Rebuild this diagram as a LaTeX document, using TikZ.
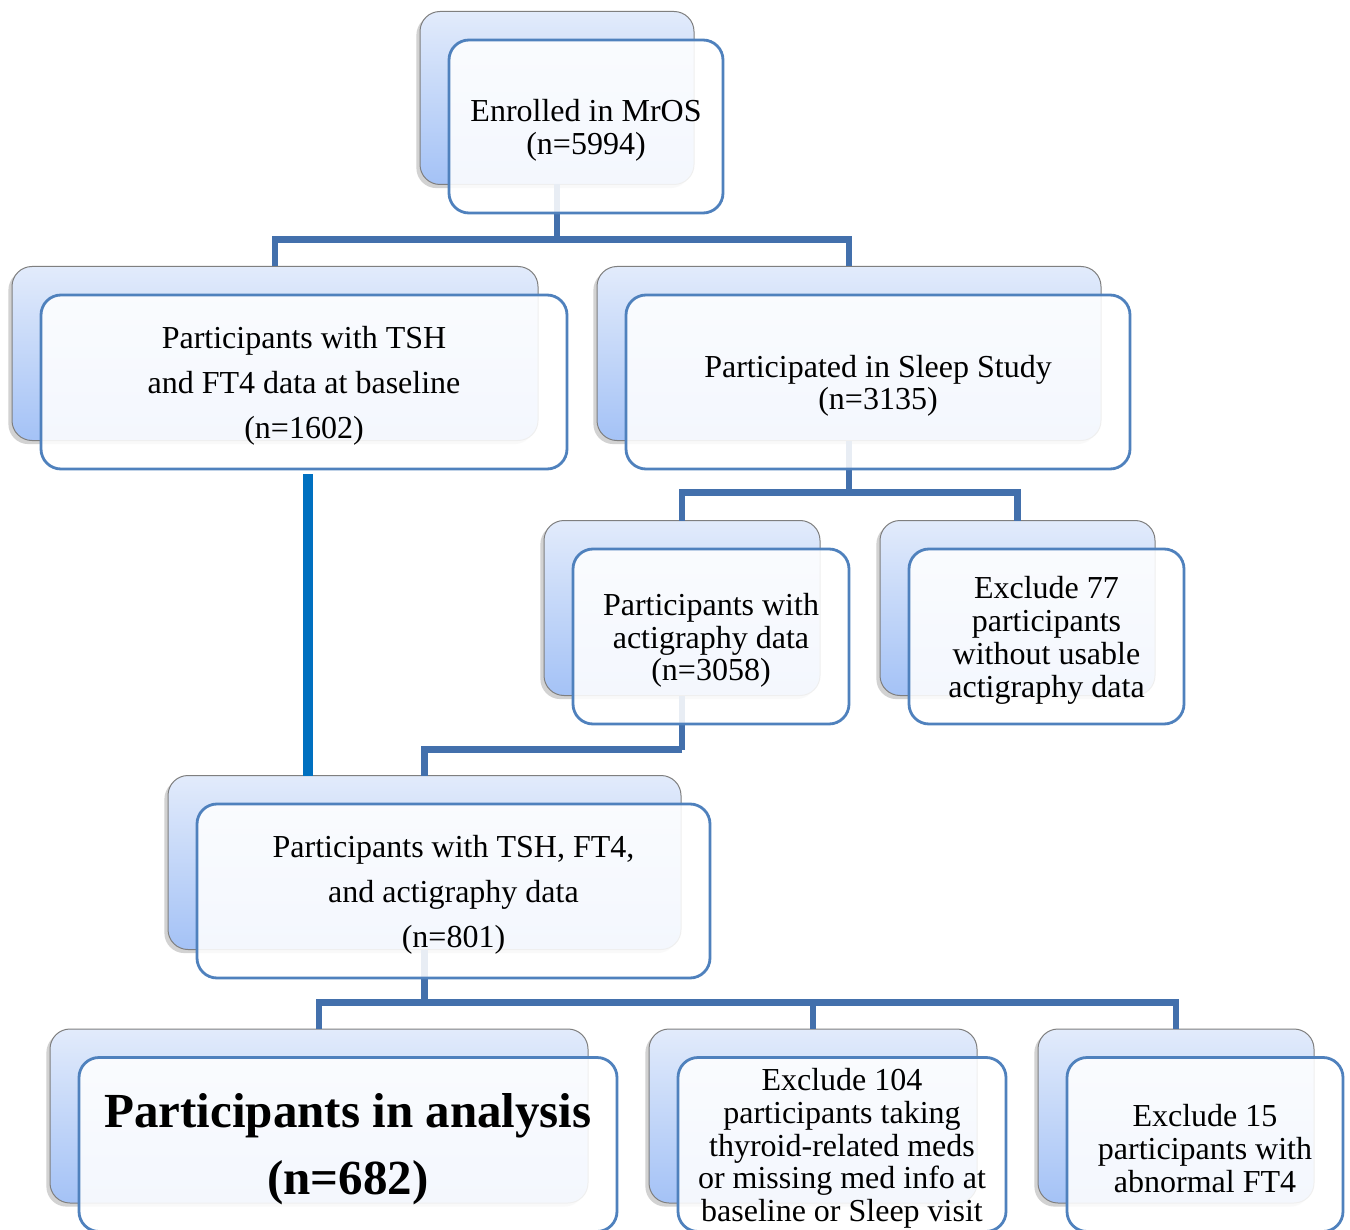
\documentclass[tikz,border=0pt]{standalone}
\usepackage{fontspec}
\setmainfont{Liberation Serif}
\usetikzlibrary{shadows}
\definecolor{conncol}{HTML}{4370AC}
\definecolor{thickcol}{HTML}{0070C0}
\definecolor{frontcol}{HTML}{4F81BD}
\definecolor{backtop}{HTML}{E2EBFB}
\definecolor{backbot}{HTML}{A4C2F6}
\definecolor{backline}{HTML}{7F7F7F}
\newcommand\tp{\rule{0pt}{15pt}}
\newcommand\tpb{\rule{0pt}{21.5pt}}
\pgfdeclarelayer{backlayer}
\pgfdeclarelayer{midlayer}
\pgfsetlayers{backlayer,midlayer,main}
\begin{document}
\begin{tikzpicture}[x=0.5pt,y=-0.5pt,
  backbox/.style={rounded corners=10pt, draw=backline, line width=0.5pt,
    top color=backtop, bottom color=backbot, inner sep=0pt, outer sep=0pt,
    drop shadow={shadow xshift=-1.8pt, shadow yshift=-1.8pt, opacity=0.25, fill=black!70}},
  frontbox/.style={rounded corners=10pt, draw=frontcol, line width=1.4pt,
    fill=white, fill opacity=0.88, text opacity=1, inner sep=0pt, outer sep=0pt,
    align=center, font=\fontsize{16}{16.4}\selectfont},
  widelines/.style={font=\fontsize{16}{22.5}\selectfont},
  bigbold/.style={font=\fontsize{24.5}{33.5}\selectfont\bfseries},
  conn/.style={draw=conncol, line width=3.2pt},
  thickconn/.style={draw=thickcol, line width=5pt},
]
\begin{pgfonlayer}{backlayer}
\fill[white] (0,0) rectangle (1350,1230);
\end{pgfonlayer}
\useasboundingbox (0,0) rectangle (1350,1230);

% back boxes
\begin{pgfonlayer}{backlayer}
\node[backbox, minimum width=137pt, minimum height=86.5pt] (B1) at (557,98) {};
\node[backbox, minimum width=263pt, minimum height=87pt] (B2) at (275,353.5) {};
\node[backbox, minimum width=252pt, minimum height=87pt] (B3) at (849,353.5) {};
\node[backbox, minimum width=138pt, minimum height=87.5pt] (B4) at (682,608) {};
\node[backbox, minimum width=137.5pt, minimum height=87.5pt] (B5) at (1017.5,608) {};
\node[backbox, minimum width=256.5pt, minimum height=87pt] (B6) at (424.5,862.5) {};
\node[backbox, minimum width=269pt, minimum height=87pt] (B7) at (319,1116) {};
\node[backbox, minimum width=164pt, minimum height=87pt] (B8) at (813,1116) {};
\node[backbox, minimum width=138pt, minimum height=87pt] (B9) at (1176,1116) {};
\end{pgfonlayer}

% front boxes
\node[frontbox, minimum width=137pt, minimum height=86.5pt] (F1) at (586,126.5)
  {\tp Enrolled in MrOS\\(n=5994)};
\node[frontbox, widelines, minimum width=263pt, minimum height=87pt] (F2) at (304,382)
  {\tp Participants with TSH\\and FT4 data at baseline\\(n=1602)};
\node[frontbox, minimum width=252pt, minimum height=87pt] (F3) at (878,382)
  {\tp Participated in Sleep Study\\(n=3135)};
\node[frontbox, minimum width=138pt, minimum height=87.5pt] (F4) at (711,636.5)
  {\tp Participants with\\actigraphy data\\(n=3058)};
\node[frontbox, minimum width=137.5pt, minimum height=87.5pt] (F5) at (1046.5,636.5)
  {\tp Exclude 77\\participants\\without usable\\actigraphy data};
\node[frontbox, widelines, minimum width=256.5pt, minimum height=87pt] (F6) at (453.5,891)
  {\tp Participants with TSH, FT4,\\and actigraphy data\\(n=801)};
\node[frontbox, bigbold, minimum width=269pt, minimum height=87pt] (F7) at (348,1144.5)
  {\tpb Participants in analysis\\(n=682)};
\node[frontbox, minimum width=164pt, minimum height=87pt] (F8) at (842,1144.5)
  {\tp Exclude 104\\participants taking\\thyroid-related meds\\or missing med info at\\baseline or Sleep visit};
\node[frontbox, minimum width=138pt, minimum height=87pt] (F9) at (1205,1144.5)
  {\tp Exclude 15\\participants with\\abnormal FT4};

% connectors
\begin{pgfonlayer}{midlayer}
\draw[conn] (B1.south) -- ++(0,55) coordinate (j1);
\draw[conn] (j1) -| (B2.north);
\draw[conn] (j1) -| (B3.north);
\draw[conn] (B3.south) -- ++(0,52) coordinate (j2);
\draw[conn] (j2) -| (B4.north);
\draw[conn] (j2) -| (B5.north);
\draw[thickconn] ([xshift=2pt,yshift=-2.5pt]F2.south) -- ([xshift=2pt]F2.south |- B6.north);
\draw[conn] (B4.south) -- ++(0,54) coordinate (j3);
\draw[conn] (j3) -| (B6.north);
\draw[conn] (B6.south) -- ++(0,53) coordinate (j4);
\draw[conn] (j4) -| (B7.north);
\draw[conn] (j4) -| (B8.north);
\draw[conn] (j4) -| (B9.north);
\end{pgfonlayer}
\end{tikzpicture}
\end{document}
